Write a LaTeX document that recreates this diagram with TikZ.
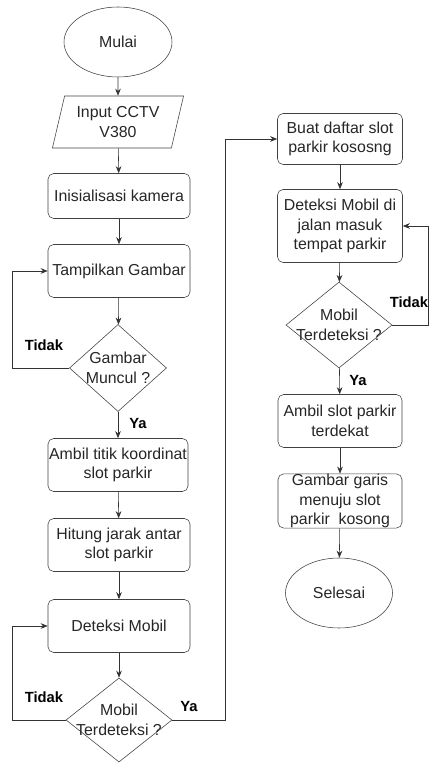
\documentclass[tikz,border=0pt]{standalone}
\usepackage{fontspec}
\setmainfont{Liberation Sans}
\usetikzlibrary{shapes.geometric}
\usetikzlibrary{arrows.meta, positioning}

\begin{document}
\begin{tikzpicture}[scale=1,
  teks/.style={font=\fontsize{11.3}{14}\selectfont, text=black!85, align=center},
  proses/.style={teks, draw=black!75, rounded corners=4pt, minimum width=3.55cm, minimum height=1.325cm, inner xsep=0pt, inner ysep=1pt},
  terminal/.style={teks, draw=black!75, ellipse, minimum width=2.7cm, minimum height=1.75cm, inner sep=0pt},
  masukan/.style={teks, draw=black!75, trapezium, trapezium left angle=73, trapezium right angle=107, trapezium stretches=true, minimum width=3.3cm, minimum height=1.3cm, inner sep=0pt},
  keputusan/.style={draw=black!75, diamond, inner sep=0pt},
  panah/.style={draw=black!80, -{Stealth[length=5pt,width=4pt]}},
  garis/.style={draw=black!80},
  ket/.style={font=\fontsize{10.5}{12}\selectfont\bfseries}]
\useasboundingbox (0,0) rectangle (10.725,19.075);

% kolom kiri
\node[terminal] (mulai) at (2.95,18.025) {Mulai};
\node[masukan] (input) at (2.95,16.025) {Input CCTV\\V380};
\node[proses, minimum height=1.125cm] (init) at (2.975,14.175) {Inisialisasi kamera};
\node[proses] (tampil) at (2.975,12.3) {Tampilkan Gambar};
\node[keputusan, minimum width=2.425cm, minimum height=2.175cm,
  label={[teks]center:Gambar\\Muncul ?}] (muncul) at (2.95,9.875) {};
\node[proses, minimum width=3.5cm] (titik) at (2.95,7.45) {Ambil titik koordinat\\slot parkir};
\node[proses] (hitung) at (2.975,5.45) {Hitung jarak antar\\slot parkir};
\node[proses] (deteksi) at (2.975,3.425) {Deteksi Mobil};
\node[keputusan, minimum width=2.65cm, minimum height=2.1cm,
  label={[teks]center:Mobil\\Terdeteksi ?}] (mobil) at (2.975,1.075) {};

% kolom kanan
\node[proses, minimum width=3.125cm, minimum height=1.275cm] (daftar) at (8.5,15.6) {Buat daftar slot\\parkir kososng};
\node[proses, minimum width=3.125cm, minimum height=1.825cm] (jalan) at (8.5,13.425) {Deteksi Mobil di\\jalan masuk\\tempat parkir};
\node[keputusan, minimum width=2.65cm, minimum height=2.15cm,
  label={[teks]center:Mobil\\Terdeteksi ?}] (mobil2) at (8.475,10.95) {};
\node[proses, minimum width=3.1cm] (terdekat) at (8.5,8.55) {Ambil slot parkir\\terdekat};
\node[proses, minimum width=3.1cm, minimum height=1.35cm, inner ysep=0pt] (gambar) at (8.5,6.55) {Gambar garis\\menuju slot\\parkir~ kosong};
\node[terminal, minimum width=2.675cm] (selesai) at (8.475,4.25) {Selesai};

% titik bantu
\coordinate (kiri1) at (0.3,9.875);
\coordinate (kiri2) at (0.3,1.075);
\coordinate (tengah) at (5.625,1.075);
\coordinate (kanan) at (10.7,10.95);

% panah
\draw[panah] (mulai) -- (input);
\draw[panah] (input) -- (init);
\draw[panah] (init) -- (tampil);
\draw[panah] (tampil) -- (muncul);
\draw[panah] (muncul) -- (titik);
\draw[panah] (titik) -- (hitung);
\draw[panah] (hitung) -- (deteksi);
\draw[panah] (deteksi) -- (mobil);
\draw[panah] (muncul.west) -- (kiri1) |- (tampil.west);
\draw[panah] (mobil.west) -- (kiri2) |- (deteksi.west);
\draw[panah] (mobil.east) -- (tengah) |- (daftar.west);
\draw[panah] (daftar) -- (jalan);
\draw[panah] (jalan) -- (mobil2);
\draw[panah] (mobil2) -- (terdekat);
\draw[panah] (terdekat) -- (gambar);
\draw[panah] (gambar) -- (selesai);
\draw[panah] (mobil2.east) -- (kanan) |- (jalan.east);

% keterangan
\node[ket] (tidak1) at (1.1,10.45) {Tidak};
\node[ket] (ya1) at (3.45,8.5) {Ya};
\node[ket] (tidak2) at (1.1,1.65) {Tidak};
\node[ket] (ya2) at (4.725,1.425) {Ya};
\node[ket] (tidak3) at (10.225,11.525) {Tidak};
\node[ket] (ya3) at (8.95,9.575) {Ya};

\end{tikzpicture}
\end{document}
